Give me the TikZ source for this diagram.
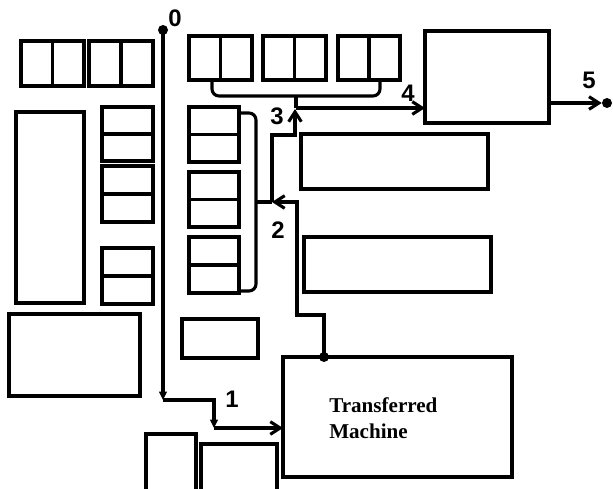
\documentclass[tikz,border=0pt]{standalone}
\usepackage{fontspec}
\setmainfont{Liberation Serif}
\newfontfamily\numfont{Liberation Sans}
\usetikzlibrary{calc,arrows.meta}
\newcommand{\px}{0.025cm}

\begin{document}
\begin{tikzpicture}[x=0.025cm, y=-0.025cm,
  box/.style={rectangle, draw, line width=2.4pt, inner sep=0pt, outer sep=0pt},
  sz/.style 2 args={minimum width=#1*\px, minimum height=#2*\px},
  two/.style={box, path picture={\draw[line width=2.4pt] (path picture bounding box.north) -- (path picture bounding box.south);}},
  stk/.style={box, path picture={\draw[line width=2.4pt] (path picture bounding box.west) -- (path picture bounding box.east);}},
  dot/.style={circle, fill, inner sep=0pt, minimum size=10*\px},
  num/.style={font=\numfont\bfseries\fontsize{17}{17}\selectfont, inner sep=0pt},
  lnk/.style={line width=2.2pt},
  brk/.style={lnk, rounded corners=5pt},
  ba/.style={lnk, -{Straight Barb[length=7pt,width=9pt]}},
  fa/.style={lnk, -{Triangle[length=6pt,width=5.5pt]}}
]
  \useasboundingbox (0,0) rectangle (613,488);
  \clip (0,0) rectangle (613,488);
  \fill[white] (0,0) rectangle (613,488);

  % left block
  \node[two, sz={63}{45}] (tl1) at (52.5,63.5) {};
  \node[two, sz={64}{45}] (tl2) at (121,63.5) {};
  \node[box, sz={68}{191}] (tall) at (50,207.5) {};
  \node[stk, sz={51}{54}] (s1) at (127.5,134) {};
  \node[stk, sz={51}{56}] (s2) at (127.5,194) {};
  \node[stk, sz={51}{56}] (s3) at (127.5,276) {};
  \node[box, sz={131}{82}] (bl) at (74.5,355) {};
  \node[box, sz={76}{39}] (sm) at (220,338.5) {};
  \node[box, sz={50}{60}] (b1) at (171,464) {};
  \node[box, sz={76}{50}] (b2) at (239,469) {};

  % middle and right
  \node[two, sz={63}{44}] (t1) at (220.5,58) {};
  \node[two, sz={63}{44}] (t2) at (294.5,58) {};
  \node[two, sz={62}{44}] (t3) at (369,58) {};
  \node[stk, sz={50}{55}] (c1) at (214,134.5) {};
  \node[stk, sz={50}{55}] (c2) at (214,199.5) {};
  \node[stk, sz={50}{56}] (c3) at (214,265) {};
  \node[box, sz={187}{55}] (ra) at (394.5,161.5) {};
  \node[box, sz={187}{55}] (rb) at (397.5,264.5) {};
  \node[box, sz={124}{92}] (out) at (487,77) {};
  \node[box, sz={229}{120}] (tm) at (397.5,417) {};
  \node[anchor=west, inner sep=0pt, align=left,
        font=\bfseries\fontsize{15}{18.5}\selectfont] (tmt) at (329,418) {Transferred\\Machine};

  \node[dot] (d0) at (163,30) {};
  \node[dot] (dm) at (324,357) {};
  \node[dot] (d5) at (607,103) {};
  \coordinate (q1) at (163,400);
  \coordinate (q2) at (214,400);
  \coordinate (q3) at (214,428);
  \coordinate (k1) at (297,315);
  \coordinate (j2) at (272,202);
  \coordinate (k3) at (295,135);
  \coordinate (j3) at (295,109);
  \coordinate (j4) at (296,108);

  % flow
  \draw[fa] (d0.center) -- (q1);
  \draw[fa] (q1) -- (q2) -- (q3);
  \draw[ba] (q3) -- (tm.west |- q3);
  \draw[ba] (dm.center) |- (k1) |- (j2);
  \draw[ba] (j2) |- (k3) -- (j3);
  \draw[ba] (j4) -- (out.west |- j4);
  \draw[ba] (out.east |- d5) -- (d5.west);

  % brackets
  \draw[brk] (240,113) -- (256,113) -- (256,291) -- (240,291);
  \draw[lnk] (256,202) -- (j2);
  \draw[brk] (212,80) -- (212,96) -- (380,96) -- (380,80);
  \draw[lnk] (296,96) -- (j4);

  \node[num] (n0) at (175,18) {0};
  \node[num] (n1) at (232,399) {1};
  \node[num] (n2) at (278,230) {2};
  \node[num] (n3) at (277,116) {3};
  \node[num] (n4) at (408,93) {4};
  \node[num] (n5) at (589,80) {5};
\end{tikzpicture}
\end{document}
